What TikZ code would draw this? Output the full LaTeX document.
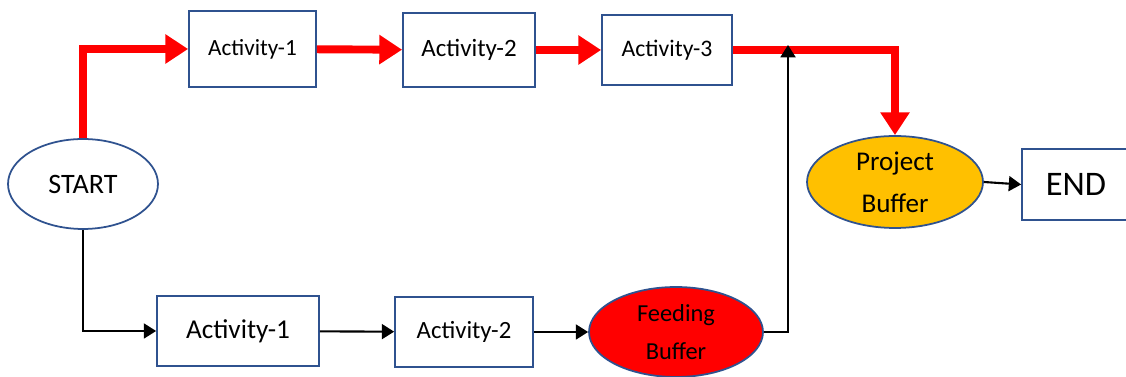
\documentclass[tikz,border=0pt]{standalone}
\usepackage{fontspec}
\setmainfont{Carlito}
\usepackage{xcolor}
\usetikzlibrary{arrows.meta, positioning, shapes.geometric}
\definecolor{boxblue}{RGB}{47, 82, 143}
\definecolor{bufgold}{RGB}{255, 192, 0}
\definecolor{critred}{RGB}{255, 0, 0}

\newcommand{\fs}[1]{\fontsize{#1}{1.55\dimexpr #1pt\relax}\selectfont}

\begin{document}
\begin{tikzpicture}[x=0.02cm, y=-0.02cm,
   task/.style={draw=boxblue, line width=1pt, fill=white, inner sep=0pt, align=center},
   oval/.style={ellipse, draw=boxblue, line width=1pt, inner sep=0pt, inner ysep=-2pt, align=center},
   crit/.style={critred, line width=4.5pt, -{Triangle[length=13pt, width=16pt]}},
   feed/.style={black, line width=1.2pt, -{Triangle[length=7pt, width=8.5pt]}}]
  \clip (0,0) rectangle (1126,377);
  % critical chain (top)
  \node[oval, fill=white, minimum width=3cm, minimum height=1.8cm, font=\fs{16}] (start) at (83,184) {START};
  \node[task, minimum width=2.54cm, minimum height=1.52cm, font=\fs{13.2}] (a1) at (252.5,49) {Activity-1};
  \node[task, minimum width=2.64cm, minimum height=1.48cm, font=\fs{14.2}] (a2) at (469,50) {Activity-2};
  \node[task, minimum width=2.6cm, minimum height=1.4cm, font=\fs{13.5}] (a3) at (667,50) {Activity-3};
  \node[oval, fill=bufgold, minimum width=3.52cm, minimum height=1.84cm, font=\fs{15.4}] (pb) at (895,182) {Project\\Buffer};
  \node[task, minimum width=2.16cm, minimum height=1.42cm, font=\fs{19.6}] (end) at (1076,184.5) {END};
  % feeding chain (bottom)
  \node[task, minimum width=3.24cm, minimum height=1.4cm, font=\fs{15.5}] (b1) at (238,331) {Activity-1};
  \node[task, minimum width=2.76cm, minimum height=1.4cm, font=\fs{14.1}] (b2) at (464,332) {Activity-2};
  \node[oval, fill=critred, minimum width=3.48cm, minimum height=1.8cm, font=\fs{13.9}] (fb) at (676,332) {Feeding\\Buffer};
  \coordinate (join) at (788,45);

  \draw[crit] (start.north) |- (a1.west);
  \draw[crit] (a1) -- (a2);
  \draw[crit] (a2) -- (a3);
  \draw[crit] (a3.east) -| (pb.north);
  \draw[feed] (start.south) |- (b1.west);
  \draw[feed] (b1) -- (b2);
  \draw[feed] (b2) -- (fb);
  \draw[feed] (fb.east) -| (join);
  \draw[feed] (pb.east) -- (end.west);
\end{tikzpicture}
\end{document}
